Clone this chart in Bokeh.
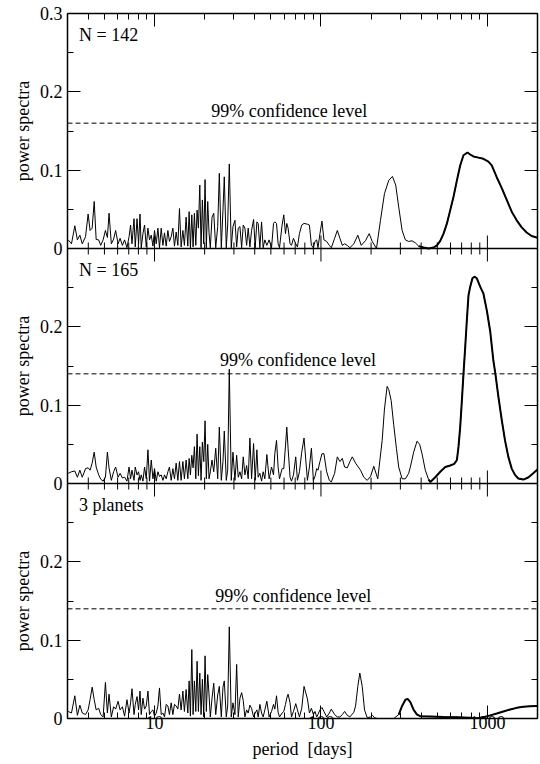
import numpy as np
from bokeh.plotting import figure
from bokeh.layouts import row
from bokeh.models import Range1d, LinearAxis, LogAxis, FixedTicker, Span, Label, BasicTickFormatter
from bokeh.embed import file_html
from bokeh.resources import INLINE

# ---------------- data ----------------
# shared period grid of the short-period (noisy) part, days
period_short = [3.03, 3.17, 3.32, 3.44, 3.56, 3.68, 3.85, 3.99, 4.10, 4.22,
                4.34, 4.46, 4.62, 4.75, 4.91, 5.07, 5.21, 5.33, 5.50, 5.68,
                5.84, 6.04, 6.21, 6.41, 6.61, 6.83, 7.03, 7.18, 7.32, 7.53,
                7.66, 7.85, 8.02, 8.18, 8.32, 8.52, 8.71, 8.92, 9.13, 9.33,
                9.56, 9.78, 10.0, 10.24, 10.48, 10.71, 10.97, 11.23, 11.48, 11.75,
                12.03, 12.29, 12.59, 12.89, 13.18, 13.49, 13.81, 14.12, 14.45, 14.80,
                15.12, 15.48, 15.85, 16.14, 16.43, 16.75, 17.05, 17.36, 17.70, 18.02,
                18.35, 18.71, 19.04, 19.39, 19.76, 20.12, 20.48, 20.88, 21.26, 21.64,
                22.16, 22.69, 23.32, 23.97, 24.51, 25.19, 25.78, 26.25, 26.98, 27.51,
                28.13, 28.91, 29.60, 30.42, 31.15, 31.84, 32.60, 33.37, 34.12, 34.92,
                35.75, 36.54, 37.41, 38.30, 39.37, 40.25, 41.21, 41.95, 42.95, 43.97,
                44.95, 46.01, 47.30, 48.82, 50.47, 51.88, 52.82, 54.07, 55.27, 56.35,
                58.42, 59.80, 61.22, 62.33, 63.45, 65.22, 66.50, 68.35, 70.55, 72.23,
                74.25, 76.65, 79.12, 82.93, 85.24, 87.62, 90.07, 92.08, 94.26, 95.94,
                98.63, 101.4, 104.2, 108.2, 112.3, 115.4, 120.8, 125.4, 130.0, 134.4,
                138.7, 143.9, 149.2]

power_142_short = [0.011, 0.006, 0.029, 0.011, 0.017, 0.006, 0.015, 0.044, 0.023, 0.026,
                   0.060, 0.0115, 0.011, 0.004, 0.011, 0.023, 0.014, 0.045, 0.006, 0.012,
                   0.023, 0.006, 0.013, 0.004, 0.011, 0.001, 0.015, 0.030, 0.006, 0.038,
                   0.002, 0.038, 0.006, 0.044, 0.001, 0.019, 0.030, 0.002, 0.026, 0.011,
                   0.017, 0.003, 0.023, 0.006, 0.026, 0.001, 0.026, 0.004, 0.020, 0.003,
                   0.023, 0.009, 0.015, 0.026, 0.003, 0.021, 0.004, 0.051, 0.002, 0.023,
                   0.004, 0.040, 0.003, 0.047, 0.001, 0.043, 0.002, 0.045, 0.004, 0.049,
                   0.026, 0.081, 0.001, 0.062, 0.006, 0.088, 0.001, 0.060, 0.020, 0.001,
                   0.040, 0.045, 0.001, 0.028, 0.096, 0.001, 0.049, 0.0915, 0.001, 0.030,
                   0.108, 0.001, 0.028, 0.036, 0.002, 0.026, 0.028, 0.001, 0.030, 0.026,
                   0.004, 0.026, 0.002, 0.023, 0.037, 0.001, 0.034, 0.032, 0.001, 0.034,
                   0.001, 0.011, 0.004, 0.011, 0.001, 0.032, 0.034, 0.032, 0.006, 0.001,
                   0.030, 0.043, 0.019, 0.032, 0.026, 0.006, 0.004, 0.013, 0.006, 0.002,
                   0.019, 0.030, 0.032, 0.031, 0.030, 0.004, 0.001, 0.009, 0.011, 0.001,
                   0.019, 0.035, 0.011, 0.009, 0.004, 0.001, 0.013, 0.023, 0.013, 0.004,
                   0.006, 0.004, 0.001]

power_165_short = [0.013, 0.015, 0.016, 0.008, 0.017, 0.008, 0.019, 0.020, 0.017, 0.026,
                   0.040, 0.021, 0.011, 0.0055, 0.003, 0.008, 0.040, 0.020, 0.004, 0.015,
                   0.021, 0.008, 0.013, 0.007, 0.008, 0.003, 0.021, 0.006, 0.017, 0.004,
                   0.021, 0.011, 0.015, 0.004, 0.011, 0.003, 0.021, 0.006, 0.043, 0.003,
                   0.030, 0.006, 0.019, 0.003, 0.015, 0.009, 0.011, 0.004, 0.011, 0.006,
                   0.015, 0.021, 0.004, 0.019, 0.006, 0.026, 0.004, 0.028, 0.004, 0.028,
                   0.006, 0.030, 0.006, 0.032, 0.011, 0.036, 0.020, 0.047, 0.006, 0.063,
                   0.010, 0.047, 0.004, 0.053, 0.028, 0.080, 0.006, 0.050, 0.006, 0.015,
                   0.030, 0.015, 0.045, 0.006, 0.072, 0.004, 0.028, 0.067, 0.004, 0.017,
                   0.146, 0.004, 0.040, 0.004, 0.036, 0.008, 0.015, 0.006, 0.034, 0.011,
                   0.023, 0.006, 0.058, 0.006, 0.051, 0.004, 0.043, 0.008, 0.013, 0.003,
                   0.015, 0.006, 0.037, 0.006, 0.021, 0.011, 0.038, 0.055, 0.021, 0.006,
                   0.019, 0.019, 0.048, 0.072, 0.045, 0.008, 0.003, 0.011, 0.034, 0.004,
                   0.015, 0.040, 0.058, 0.004, 0.021, 0.045, 0.004, 0.009, 0.019, 0.017,
                   0.028, 0.038, 0.038, 0.015, 0.004, 0.002, 0.013, 0.034, 0.028, 0.032,
                   0.021, 0.020, 0.028]

power_3pl_short = [0.009, 0.007, 0.029, 0.004, 0.017, 0.007, 0.005, 0.011, 0.024, 0.040,
                   0.024, 0.011, 0.013, 0.005, 0.002, 0.046, 0.007, 0.031, 0.002, 0.015,
                   0.012, 0.022, 0.011, 0.015, 0.003, 0.024, 0.007, 0.020, 0.038, 0.005,
                   0.018, 0.028, 0.011, 0.035, 0.005, 0.026, 0.012, 0.016, 0.035, 0.005,
                   0.009, 0.011, 0.003, 0.007, 0.016, 0.039, 0.005, 0.007, 0.002, 0.018,
                   0.016, 0.005, 0.020, 0.005, 0.018, 0.016, 0.012, 0.031, 0.011, 0.035,
                   0.009, 0.037, 0.007, 0.048, 0.003, 0.088, 0.005, 0.048, 0.009, 0.073,
                   0.009, 0.058, 0.005, 0.050, 0.002, 0.080, 0.009, 0.056, 0.030, 0.002,
                   0.026, 0.045, 0.005, 0.030, 0.041, 0.002, 0.040, 0.048, 0.002, 0.016,
                   0.117, 0.002, 0.020, 0.005, 0.069, 0.002, 0.026, 0.033, 0.023, 0.002,
                   0.011, 0.007, 0.017, 0.013, 0.002, 0.007, 0.011, 0.002, 0.018, 0.007,
                   0.002, 0.011, 0.022, 0.002, 0.009, 0.018, 0.012, 0.029, 0.008, 0.002,
                   0.007, 0.009, 0.018, 0.026, 0.031, 0.020, 0.002, 0.009, 0.019, 0.011,
                   0.002, 0.013, 0.041, 0.025, 0.007, 0.013, 0.005, 0.009, 0.002, 0.005,
                   0.011, 0.014, 0.009, 0.002, 0.007, 0.012, 0.005, 0.002, 0.002, 0.005,
                   0.009, 0.004, 0.002]

# long-period (smooth) parts, one per panel
period_142_long = [157.6, 166.5, 174.6, 185.2, 194.9, 203.2, 215.6, 227.8, 240.7, 255.4,
                   268.8, 281.3, 293.2, 307.3, 321.6, 336.5, 352.6, 369.0, 386.2, 413.8,
                   443.4, 475.0, 497.7, 521.0, 545.2, 571.4, 598.0, 625.9, 655.9, 686.3,
                   718.3, 759.0, 787.8, 824.5, 883.4, 946.2, 1014, 1062, 1138, 1220,
                   1307, 1400, 1500, 1607, 1721, 1845, 1976, 2000]
power_142_long = [0.006, 0.017, 0.004, 0.010, 0.019, 0.009, 0.000, 0.036, 0.070, 0.087,
                  0.092, 0.081, 0.053, 0.023, 0.011, 0.009, 0.0098, 0.0072, 0.003, 0.0013,
                  0.0, 0.0013, 0.004, 0.0098, 0.019, 0.032, 0.049, 0.066, 0.087, 0.106,
                  0.119, 0.1225, 0.120, 0.1175, 0.116, 0.1145, 0.111, 0.106, 0.091, 0.077,
                  0.062, 0.047, 0.036, 0.027, 0.0204, 0.016, 0.014, 0.0138]

period_165_long = [154.2, 161.4, 172.9, 180.9, 189.6, 198.5, 207.7, 219.4, 233.2, 240.7,
                   249.8, 255.4, 264.1, 273.6, 284.0, 293.2, 307.3, 321.6, 336.5, 344.4,
                   360.5, 377.8, 391.6, 404.8, 423.6, 443.4, 453.9, 486.3, 521.0, 558.2,
                   598.0, 631.9, 655.9, 670.6, 686.3, 702.6, 718.3, 735.6, 752.9, 769.7,
                   787.8, 813.2, 836.0, 864.1, 906.0, 946.2, 991.8, 1040, 1086, 1117,
                   1164, 1220, 1276, 1336, 1400, 1465, 1533, 1643, 1760, 1885,
                   1976, 2000]
power_165_long = [0.034, 0.026, 0.017, 0.008, 0.004, 0.009, 0.022, 0.006, 0.055, 0.095,
                  0.124, 0.120, 0.106, 0.075, 0.045, 0.021, 0.006, 0.006, 0.013, 0.021,
                  0.040, 0.054, 0.050, 0.038, 0.017, 0.005, 0.002, 0.008, 0.015, 0.021,
                  0.023, 0.025, 0.030, 0.047, 0.072, 0.106, 0.140, 0.174, 0.209, 0.240,
                  0.251, 0.262, 0.264, 0.262, 0.251, 0.2426, 0.221, 0.194, 0.157, 0.140,
                  0.111, 0.081, 0.055, 0.034, 0.019, 0.011, 0.0064, 0.005, 0.0077, 0.013,
                  0.017, 0.018]

period_3pl_long = [157.6, 161.4, 166.5, 171.2, 177.0, 182.7, 189.6, 198.5, 204.0, 209.7,
                   217.7, 238.4, 273.6, 293.2, 307.3, 321.6, 331.9, 344.4, 360.5, 377.8,
                   395.4, 453.9, 545.2, 655.9, 787.8, 864.1, 946.2, 1040, 1138, 1247,
                   1371, 1500, 1643, 1807, 1976, 2000]
power_3pl_long = [0.008, 0.016, 0.041, 0.058, 0.041, 0.011, 0.001, 0.002, 0.004, 0.001,
                  0.0, 0.0, 0.0, 0.005, 0.016, 0.024, 0.025, 0.021, 0.011, 0.005,
                  0.003, 0.0026, 0.002, 0.0017, 0.0009, 0.0004, 0.0017, 0.004, 0.0064, 0.009,
                  0.0115, 0.0136, 0.015, 0.0157, 0.016, 0.016]

panel_names = ["N = 142", "N = 165", "3 planets"]
conf_levels = [0.16, 0.14, 0.14]
conf_text = "99% confidence level"
y_label = "power spectra"
x_label = "period\u00a0 [days]"

x_major = [10, 100, 1000]
x_major_labels = ["10", "100", "1000"]
x_minor = [3, 4, 5, 6, 7, 8, 9, 20, 30, 40, 50, 60, 70, 80, 90,
           200, 300, 400, 500, 600, 700, 800, 900, 2000]
x_minor_inner = [4, 5, 6, 7, 8, 9, 20, 30, 40, 50, 60, 70, 80, 90,
                 200, 300, 400, 500, 600, 700, 800, 900]
y_major = [0.0, 0.1, 0.2, 0.3]
y_major_labels = ["0", "0.1", "0.2", "0.3"]
y_minor = [0.05, 0.15, 0.25]

# ---------------- style / layout ----------------
FONT = "Liberation Serif"
FS = "18px"
TOP, BOTTOM = 13, 46
LAB_W = 36                                 # narrow strip that holds the rotated y labels
range_names = ["p1", "p2", "default"]
panel_ranges = {"p1": (-0.6, 0.3), "p2": (-0.3, 0.6)}
panel_offsets = [0.6, 0.3, 0.0]          # where each panel's y=0 sits on the main (0..0.9) range
thick_from = [380, 430, 290]             # periods beyond which the curve is drawn bolder
conf_label_x = [64.5, 72.7, 68.2]
conf_label_dy = [12, 14, 13]
name_x = 3.52
name_y = 0.264
name_dy = 7

series = [
    (np.concatenate([period_short, period_142_long]), np.concatenate([power_142_short, power_142_long])),
    (np.concatenate([period_short, period_165_long]), np.concatenate([power_165_short, power_165_long])),
    (np.concatenate([period_short, period_3pl_long]), np.concatenate([power_3pl_short, power_3pl_long])),
]

p = figure(width=540 - LAB_W, height=764, x_axis_type="log",
           x_range=Range1d(3, 2000), y_range=Range1d(0, 0.9),
           output_backend="svg", toolbar_location=None,
           min_border_left=67 - LAB_W, min_border_right=3, min_border_top=TOP, min_border_bottom=BOTTOM)
p.extra_y_ranges = {k: Range1d(*v) for k, v in panel_ranges.items()}
p.grid.visible = False
p.outline_line_color = None
p.background_fill_color = "white"
p.border_fill_color = "white"

# combined y ticks for the three stacked panels
yt, ylab, yminor = [], {}, []
for off in sorted(panel_offsets):
    for t, lab in zip(y_major, y_major_labels):
        v = round(off + t, 2)
        if v not in yt:
            yt.append(v)
        ylab[v] = lab
    for t in y_minor:
        yminor.append(round(off + t, 2))
yt.sort()
y_ticker = FixedTicker(ticks=yt, minor_ticks=yminor)
x_ticker = FixedTicker(ticks=x_major, minor_ticks=x_minor)


def style_axis(ax, show_labels):
    ax.axis_line_width = 1.5
    ax.axis_line_color = "black"
    ax.major_tick_in = 13
    ax.major_tick_out = 0
    ax.minor_tick_in = 6
    ax.minor_tick_out = 0
    ax.major_tick_line_color = "black"
    ax.minor_tick_line_color = "black"
    ax.major_label_text_font = FONT
    ax.major_label_text_color = "black"
    if show_labels:
        ax.major_label_text_font_size = FS
    else:
        ax.major_label_text_font_size = "1px"
        ax.major_label_text_alpha = 0
        ax.major_label_standoff = 0


xb = p.xaxis[0]
xb.ticker = x_ticker
xb.formatter = BasicTickFormatter()
xb.major_label_overrides = dict(zip(x_major, x_major_labels))
style_axis(xb, True)
xb.major_label_standoff = -3
xb.axis_label = x_label
xb.axis_label_text_font = FONT
xb.axis_label_text_font_size = FS
xb.axis_label_text_font_style = "normal"
xb.axis_label_text_color = "black"
xb.axis_label_standoff = 7

xt = LogAxis(ticker=x_ticker)
style_axis(xt, False)
p.add_layout(xt, "above")

yl = p.yaxis[0]
yl.ticker = y_ticker
yl.major_label_overrides = ylab
style_axis(yl, True)
yl.major_label_standoff = 5

yr = LinearAxis(ticker=y_ticker)
style_axis(yr, False)
p.add_layout(yr, "right")

# strip on the left for the rotated "power spectra" labels (same vertical frame as the panels)
q = figure(width=LAB_W, height=764, x_range=Range1d(0, 1), y_range=Range1d(0, 0.9),
           output_backend="svg", toolbar_location=None,
           x_axis_location=None, y_axis_location=None,
           min_border_left=0, min_border_right=0, min_border_top=TOP, min_border_bottom=BOTTOM)
q.extra_y_ranges = {k: Range1d(*v) for k, v in panel_ranges.items()}
q.grid.visible = False
q.outline_line_color = None
q.background_fill_color = "white"
q.border_fill_color = "white"

for i, rn in enumerate(range_names):
    per, powv = series[i]
    # panel boundary (bottom line of upper panels) with ticks on both sides
    if rn != "default":
        p.add_layout(Span(location=0, dimension="width", y_range_name=rn,
                          line_color="black", line_width=1.5))
        p.scatter(x=x_major, y=[0] * len(x_major), y_range_name=rn, marker="dash",
                  angle=np.pi / 2, size=26, line_color="black", line_width=1)
        p.scatter(x=x_minor_inner, y=[0] * len(x_minor_inner), y_range_name=rn, marker="dash",
                  angle=np.pi / 2, size=12, line_color="black", line_width=1)
    # confidence level
    p.add_layout(Span(location=conf_levels[i], dimension="width", y_range_name=rn,
                      line_color="black", line_width=1, line_dash="5 3"))
    p.add_layout(Label(x=conf_label_x[i], y=conf_levels[i], y_range_name=rn, y_offset=conf_label_dy[i],
                       text=conf_text, text_font=FONT, text_font_size=FS, text_color="black",
                       text_align="center", text_baseline="alphabetic"))
    # periodogram
    p.line(per, powv, y_range_name=rn, line_color="black", line_width=1)
    m = per >= thick_from[i]
    p.line(per[m], powv[m], y_range_name=rn, line_color="black", line_width=2)
    # panel name
    p.add_layout(Label(x=name_x, y=name_y, y_range_name=rn, y_offset=name_dy, text=panel_names[i],
                       text_font=FONT, text_font_size=FS, text_color="black",
                       text_align="left", text_baseline="alphabetic"))
    # y label in the left strip
    q.add_layout(Label(x=22 / LAB_W, y=0.15, y_range_name=rn, text=y_label, angle=np.pi / 2,
                       text_font=FONT, text_font_size=FS, text_color="black",
                       text_align="center", text_baseline="middle"))

layout = row(q, p, spacing=0)
open("out.html", "w").write(file_html(layout, INLINE))
